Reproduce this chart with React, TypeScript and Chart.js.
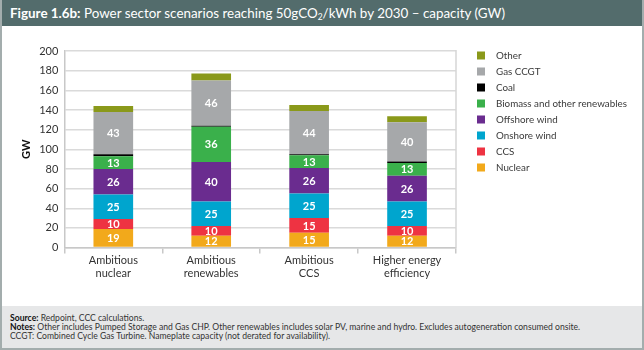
import React, { useEffect, useRef } from "react";
import { Chart, registerables } from "chart.js";

Chart.register(...registerables);

const categories: string[][] = [
  ["Ambitious", "nuclear"],
  ["Ambitious", "renewables"],
  ["Ambitious", "CCS"],
  ["Higher energy", "efficiency"],
];

const nuclear = [19, 12, 15, 12];
const ccs = [10, 10, 15, 10];
const onshoreWind = [25, 25, 25, 25];
const offshoreWind = [26, 40, 26, 26];
const biomass = [13, 36, 13, 13];
const coal = [2, 1, 1, 1.5];
const gasCCGT = [43, 46, 44, 40];
const other = [6, 7, 6, 6];

const yTicks = [0, 20, 40, 60, 80, 100, 120, 140, 160, 180, 200];

const FONT = "Lato, 'Open Sans', sans-serif";

const labelPlugin = {
  id: "segLabels",
  afterDatasetsDraw(chart: any) {
    const ctx = chart.ctx;
    ctx.save();
    ctx.font = `bold 11px ${FONT}`;
    ctx.fillStyle = "#ffffff";
    ctx.textAlign = "center";
    ctx.textBaseline = "middle";
    chart.data.datasets.forEach((ds: any, di: number) => {
      if (!ds.showValue) return;
      const meta = chart.getDatasetMeta(di);
      meta.data.forEach((el: any, i: number) => {
        const v = ds.data[i];
        ctx.fillText(String(v), el.x, (el.y + el.base) / 2 + 0.5);
      });
    });
    ctx.restore();
  },
};

const sideLegend = {
  id: "sideLegend",
  afterDraw(chart: any) {
    const ctx = chart.ctx;
    const { right, top } = chart.chartArea;
    const items = [...chart.data.datasets].reverse();
    ctx.save();
    ctx.font = `9.8px ${FONT}`;
    ctx.textBaseline = "middle";
    ctx.textAlign = "left";
    items.forEach((ds: any, i: number) => {
      const cy = top + 4.5 + i * 16;
      ctx.fillStyle = ds.backgroundColor;
      ctx.fillRect(right + 21, cy - 4, 8, 8);
      ctx.fillStyle = "#3a3a3a";
      ctx.fillText(ds.label, right + 40, cy);
    });
    ctx.restore();
  },
};

const frameLine = {
  id: "frameLine",
  beforeDatasetsDraw(chart: any) {
    const ctx = chart.ctx;
    const { right, top, bottom } = chart.chartArea;
    ctx.save();
    ctx.strokeStyle = "#d6d6d6";
    ctx.lineWidth = 1.5;
    ctx.beginPath();
    ctx.moveTo(right, top - 1);
    ctx.lineTo(right, bottom);
    ctx.stroke();
    ctx.restore();
  },
};

export default function App() {
  const ref = useRef<HTMLCanvasElement>(null);
  useEffect(() => {
    document.body.style.margin = "0";
    const mk = (label: string, data: number[], color: string, showValue: boolean) => ({
      label,
      data,
      backgroundColor: color,
      borderWidth: 0,
      showValue,
      barPercentage: 0.405,
      categoryPercentage: 1,
    });
    const chart = new Chart(ref.current!, {
      type: "bar",
      data: {
        labels: categories,
        datasets: [
          mk("Nuclear", nuclear, "#f2a91b", true),
          mk("CCS", ccs, "#ee3342", true),
          mk("Onshore wind", onshoreWind, "#00a5ce", true),
          mk("Offshore wind", offshoreWind, "#6a2c8f", true),
          mk("Biomass and other renewables", biomass, "#3ab04b", true),
          mk("Coal", coal, "#000000", false),
          mk("Gas CCGT", gasCCGT, "#a6a8aa", true),
          mk("Other", other, "#8a991a", false),
        ] as any,
      },
      options: {
        animation: false,
        responsive: false,
        maintainAspectRatio: false,
        layout: { padding: { left: 18, right: 186, top: 25, bottom: 26 } },
        plugins: { legend: { display: false }, tooltip: { enabled: false } },
        scales: {
          x: {
            stacked: true,
            grid: {
              offset: true,
              drawOnChartArea: false,
              color: "#c8c8c8",
              lineWidth: 1.5,
              tickLength: 6,
            },
            border: { color: "#c8c8c8", width: 1.5 },
            ticks: { color: "#333333", font: { family: FONT, size: 11 }, padding: 0 },
          },
          y: {
            stacked: true,
            min: 0,
            max: 200,
            afterBuildTicks: (axis: any) => {
              axis.ticks = yTicks.map((v) => ({ value: v }));
            },
            grid: { color: "#dadada", lineWidth: 1.5, drawTicks: false },
            border: { color: "#c8c8c8", width: 1.5 },
            ticks: { color: "#333333", font: { family: FONT, size: 11 }, padding: 6 },
            title: {
              display: true,
              text: "GW",
              color: "#111111",
              font: { family: FONT, size: 11, weight: "bold" },
              padding: { top: 0, bottom: 0 },
            },
          },
        },
      },
      plugins: [labelPlugin, sideLegend, frameLine],
    });
    return () => chart.destroy();
  }, []);

  return (
    <div
      style={{
        position: "relative",
        width: 644,
        height: 350,
        boxSizing: "border-box",
        border: "2px solid #a3adad",
        borderTop: "none",
        background: "#ffffff",
        fontFamily: FONT,
        overflow: "hidden",
      }}
    >
      <div
        style={{
          height: 26,
          margin: "0 -2px",
          background: "#536c6c",
          color: "#ffffff",
          fontSize: 13.4,
          lineHeight: "26px",
          paddingLeft: 10,
          whiteSpace: "nowrap",
        }}
      >
        <b>Figure 1.6b:</b> Power sector scenarios reaching 50gCO
        <sub style={{ fontSize: 8.5, verticalAlign: "-2px" }}>2</sub>/kWh by 2030 – capacity (GW)
      </div>
      <canvas ref={ref} width={640} height={280} style={{ display: "block", width: 640, height: 280 }} />
      <div
        style={{
          height: 42,
          background: "#e6e7e8",
          boxSizing: "border-box",
          padding: "7.5px 0 0 8px",
          fontSize: 8.6,
          lineHeight: "9px",
          color: "#333333",
          whiteSpace: "nowrap",
        }}
      >
        <div>
          <b style={{ color: "#111" }}>Source:</b> Redpoint, CCC calculations.
        </div>
        <div>
          <b style={{ color: "#111" }}>Notes:</b> Other includes Pumped Storage and Gas CHP. Other renewables includes solar PV, marine and hydro. Excludes autogeneration consumed onsite.
        </div>
        <div>CCGT: Combined Cycle Gas Turbine. Nameplate capacity (not derated for availability).</div>
      </div>
    </div>
  );
}
